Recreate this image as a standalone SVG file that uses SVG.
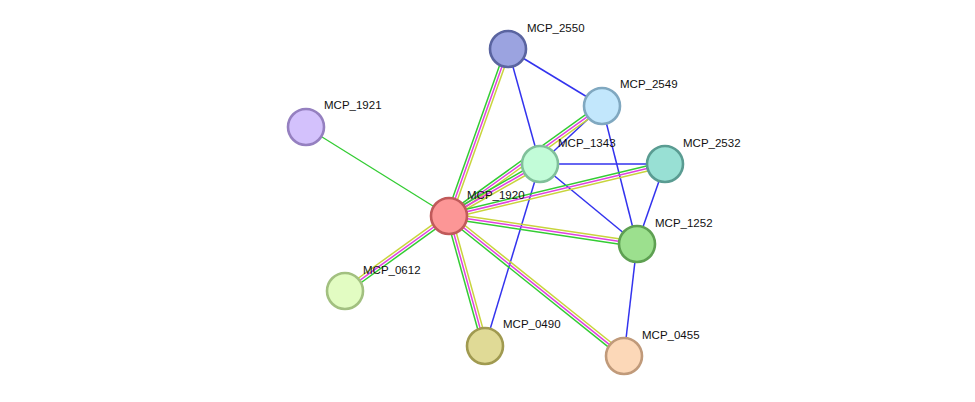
<svg xmlns="http://www.w3.org/2000/svg" width="975" height="402" viewBox="0 0 975 402">
<style>
.g{stroke:#33cc33;stroke-width:1.5}.m{stroke:#e040e0;stroke-width:1.5}.y{stroke:#c8d43c;stroke-width:1.5}
.b{stroke:#3333ee;stroke-width:1.5}.gs{stroke:#33cc33;stroke-width:1.3}
circle{stroke-width:2.6}
text{font-family:"Liberation Sans",Arial,sans-serif;font-size:11.5px;fill:#111}
</style>
<rect width="975" height="402" fill="#fff"/>
<g id="connectors" fill="none">
<line class="gs" x1="306" y1="127" x2="449" y2="216"/>
<line class="b" x1="508" y1="49" x2="602" y2="106"/>
<line class="b" x1="508" y1="49" x2="540" y2="164"/>
<line class="b" x1="602" y1="106" x2="540" y2="164"/>
<line class="b" x1="602" y1="106" x2="637" y2="244"/>
<line class="b" x1="540" y1="164" x2="665" y2="164"/>
<line class="b" x1="540" y1="164" x2="637" y2="244"/>
<line class="b" x1="540" y1="164" x2="485" y2="346"/>
<line class="b" x1="665" y1="164" x2="637" y2="244"/>
<line class="b" x1="637" y1="244" x2="624" y2="356"/>
<g transform="translate(449,216) rotate(-70.5)"><line class="g" x1="0" y1="-2.6" x2="177" y2="-2.6"/><line class="m" x1="0" y1="0" x2="177" y2="0"/><line class="y" x1="0" y1="2.6" x2="177" y2="2.6"/></g>
<g transform="translate(449,216) rotate(-35.7)"><line class="g" x1="0" y1="-2.6" x2="188" y2="-2.6"/><line class="m" x1="0" y1="0" x2="188" y2="0"/><line class="y" x1="0" y1="2.6" x2="188" y2="2.6"/></g>
<g transform="translate(449,216) rotate(-29.7)"><line class="g" x1="0" y1="-2.6" x2="105" y2="-2.6"/><line class="m" x1="0" y1="0" x2="105" y2="0"/><line class="y" x1="0" y1="2.6" x2="105" y2="2.6"/></g>
<g transform="translate(449,216) rotate(-13.5)"><line class="g" x1="0" y1="-2.6" x2="222" y2="-2.6"/><line class="m" x1="0" y1="0" x2="222" y2="0"/><line class="y" x1="0" y1="2.6" x2="222" y2="2.6"/></g>
<g transform="translate(449,216) rotate(8.5)"><line class="y" x1="0" y1="-2.6" x2="190" y2="-2.6"/><line class="m" x1="0" y1="0" x2="190" y2="0"/><line class="g" x1="0" y1="2.6" x2="190" y2="2.6"/></g>
<g transform="translate(449,216) rotate(38.7)"><line class="y" x1="0" y1="-2.6" x2="224" y2="-2.6"/><line class="m" x1="0" y1="0" x2="224" y2="0"/><line class="g" x1="0" y1="2.6" x2="224" y2="2.6"/></g>
<g transform="translate(449,216) rotate(74.5)"><line class="y" x1="0" y1="-2.6" x2="135" y2="-2.6"/><line class="m" x1="0" y1="0" x2="135" y2="0"/><line class="g" x1="0" y1="2.6" x2="135" y2="2.6"/></g>
<g transform="translate(449,216) rotate(144.2)"><line class="g" x1="0" y1="-2.6" x2="128" y2="-2.6"/><line class="m" x1="0" y1="0" x2="128" y2="0"/><line class="y" x1="0" y1="2.6" x2="128" y2="2.6"/></g>
</g>
<g id="MCP_2550"><circle cx="508" cy="49" r="18" fill="#9ba3e0" stroke="#5a64a0"/><text x="527" y="32">MCP_2550</text></g>
<g id="MCP_2549"><circle cx="602" cy="106" r="18" fill="#c2e7fc" stroke="#80a8c0"/><text x="620" y="88">MCP_2549</text></g>
<g id="MCP_1921"><circle cx="306" cy="127" r="18" fill="#d3c1fc" stroke="#9580c0"/><text x="324" y="109">MCP_1921</text></g>
<g id="MCP_1343"><circle cx="540" cy="164" r="18" fill="#c2fcd8" stroke="#80c09a"/><text x="558" y="147">MCP_1343</text></g>
<g id="MCP_2532"><circle cx="665" cy="164" r="18" fill="#98e0d4" stroke="#5a9c92"/><text x="683" y="147">MCP_2532</text></g>
<g id="MCP_1920"><circle cx="449" cy="216" r="18" fill="#fc9696" stroke="#c05a5a"/><text x="467" y="199">MCP_1920</text></g>
<g id="MCP_1252"><circle cx="637" cy="244" r="18" fill="#9ce08e" stroke="#5ea052"/><text x="655" y="227">MCP_1252</text></g>
<g id="MCP_0612"><circle cx="345" cy="291" r="18" fill="#e2fcc2" stroke="#a2c080"/><text x="363" y="274">MCP_0612</text></g>
<g id="MCP_0490"><circle cx="485" cy="346" r="18" fill="#e0da96" stroke="#a09a50"/><text x="503" y="328">MCP_0490</text></g>
<g id="MCP_0455"><circle cx="624" cy="356" r="18" fill="#fcd8b8" stroke="#c09a7a"/><text x="642" y="339">MCP_0455</text></g>
</svg>
